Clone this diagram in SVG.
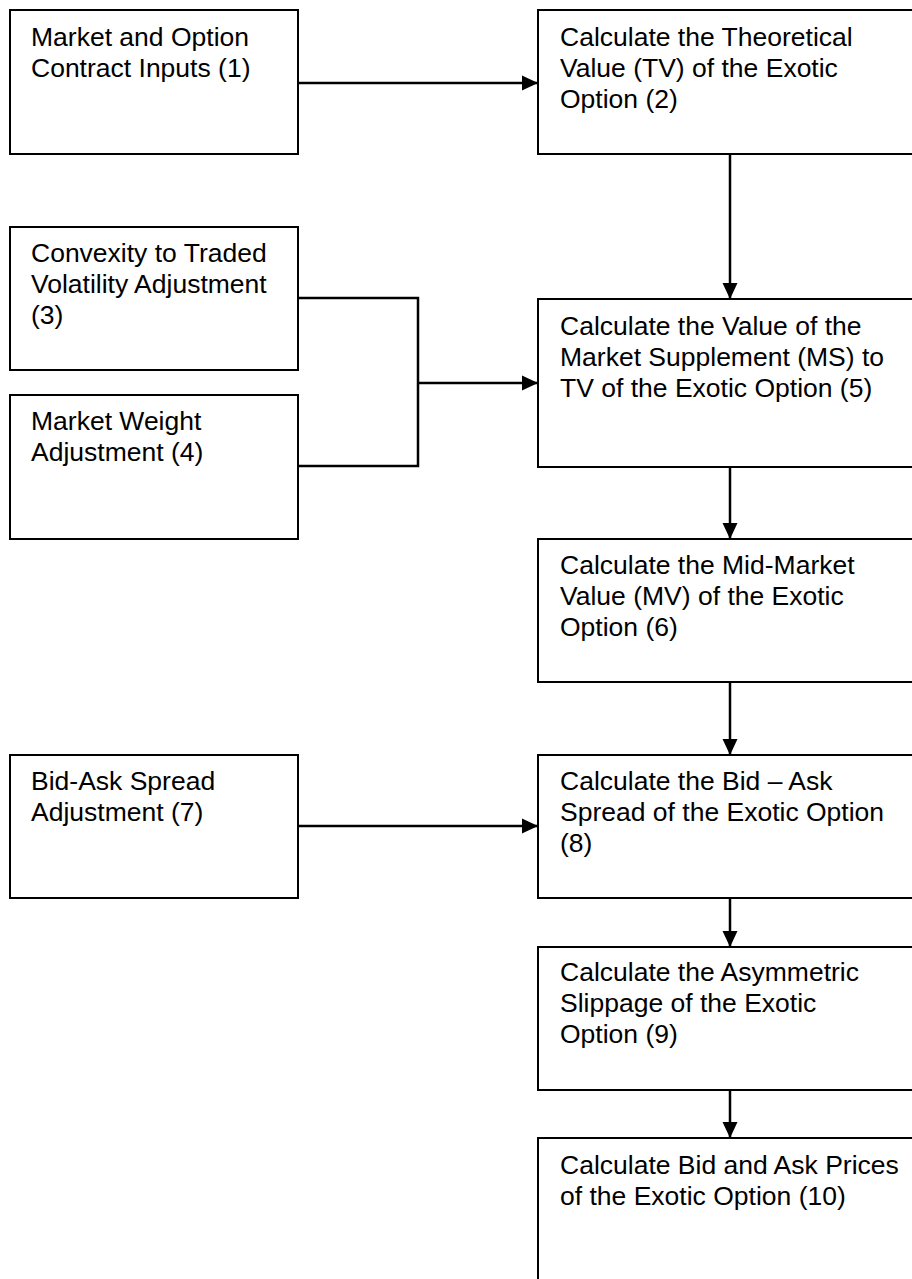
<svg xmlns="http://www.w3.org/2000/svg" width="912" height="1279" viewBox="0 0 912 1279">
  <style>
    .box { fill: #ffffff; stroke: #000000; stroke-width: 2; }
    .lbl { font-family: "Liberation Sans", Arial, sans-serif; font-size: 26.5px; fill: #000000; }
    .wire { fill: none; stroke: #000000; stroke-width: 2.5; }
  </style>
  <defs>
    <marker id="head" markerUnits="userSpaceOnUse" markerWidth="16" markerHeight="16" refX="16" refY="8" orient="auto">
      <path d="M0,0.5 L16,8 L0,15.5 Z" fill="#000000"/>
    </marker>
  </defs>
  <rect x="0" y="0" width="912" height="1279" fill="#ffffff"/>

  <g id="connectors">
    <line class="wire" x1="298" y1="83" x2="538" y2="83" marker-end="url(#head)"/>
    <line class="wire" x1="730" y1="154" x2="730" y2="299" marker-end="url(#head)"/>
    <polyline class="wire" points="298,298 418,298 418,466 298,466"/>
    <line class="wire" x1="418" y1="383" x2="538" y2="383" marker-end="url(#head)"/>
    <line class="wire" x1="730" y1="467" x2="730" y2="539" marker-end="url(#head)"/>
    <line class="wire" x1="730" y1="682" x2="730" y2="755" marker-end="url(#head)"/>
    <line class="wire" x1="298" y1="826" x2="538" y2="826" marker-end="url(#head)"/>
    <line class="wire" x1="730" y1="898" x2="730" y2="947" marker-end="url(#head)"/>
    <line class="wire" x1="730" y1="1090" x2="730" y2="1138" marker-end="url(#head)"/>
  </g>

  <g id="node1">
    <rect class="box" x="10" y="10" width="288" height="144"/>
    <text class="lbl" x="31" y="46">Market and Option</text>
    <text class="lbl" x="31" y="77">Contract Inputs (1)</text>
  </g>
  <g id="node2">
    <rect class="box" x="538" y="10" width="400" height="144"/>
    <text class="lbl" x="560" y="46">Calculate the Theoretical</text>
    <text class="lbl" x="560" y="77">Value (TV) of the Exotic</text>
    <text class="lbl" x="560" y="108">Option (2)</text>
  </g>
  <g id="node3">
    <rect class="box" x="10" y="227" width="288" height="143"/>
    <text class="lbl" x="31" y="262">Convexity to Traded</text>
    <text class="lbl" x="31" y="293">Volatility Adjustment</text>
    <text class="lbl" x="31" y="324">(3)</text>
  </g>
  <g id="node4">
    <rect class="box" x="10" y="395" width="288" height="144"/>
    <text class="lbl" x="31" y="430">Market Weight</text>
    <text class="lbl" x="31" y="461">Adjustment (4)</text>
  </g>
  <g id="node5">
    <rect class="box" x="538" y="299" width="400" height="168"/>
    <text class="lbl" x="560" y="335">Calculate the Value of the</text>
    <text class="lbl" x="560" y="366">Market Supplement (MS) to</text>
    <text class="lbl" x="560" y="397">TV of the Exotic Option (5)</text>
  </g>
  <g id="node6">
    <rect class="box" x="538" y="539" width="400" height="143"/>
    <text class="lbl" x="560" y="574">Calculate the Mid-Market</text>
    <text class="lbl" x="560" y="605">Value (MV) of the Exotic</text>
    <text class="lbl" x="560" y="636">Option (6)</text>
  </g>
  <g id="node7">
    <rect class="box" x="10" y="755" width="288" height="143"/>
    <text class="lbl" x="31" y="790">Bid-Ask Spread</text>
    <text class="lbl" x="31" y="821">Adjustment (7)</text>
  </g>
  <g id="node8">
    <rect class="box" x="538" y="755" width="400" height="143"/>
    <text class="lbl" x="560" y="790">Calculate the Bid – Ask</text>
    <text class="lbl" x="560" y="821">Spread of the Exotic Option</text>
    <text class="lbl" x="560" y="852">(8)</text>
  </g>
  <g id="node9">
    <rect class="box" x="538" y="947" width="400" height="143"/>
    <text class="lbl" x="560" y="981">Calculate the Asymmetric</text>
    <text class="lbl" x="560" y="1012">Slippage of the Exotic</text>
    <text class="lbl" x="560" y="1043">Option (9)</text>
  </g>
  <g id="node10">
    <rect class="box" x="538" y="1138" width="400" height="160"/>
    <text class="lbl" x="560" y="1174">Calculate Bid and Ask Prices</text>
    <text class="lbl" x="560" y="1205">of the Exotic Option (10)</text>
  </g>
</svg>
